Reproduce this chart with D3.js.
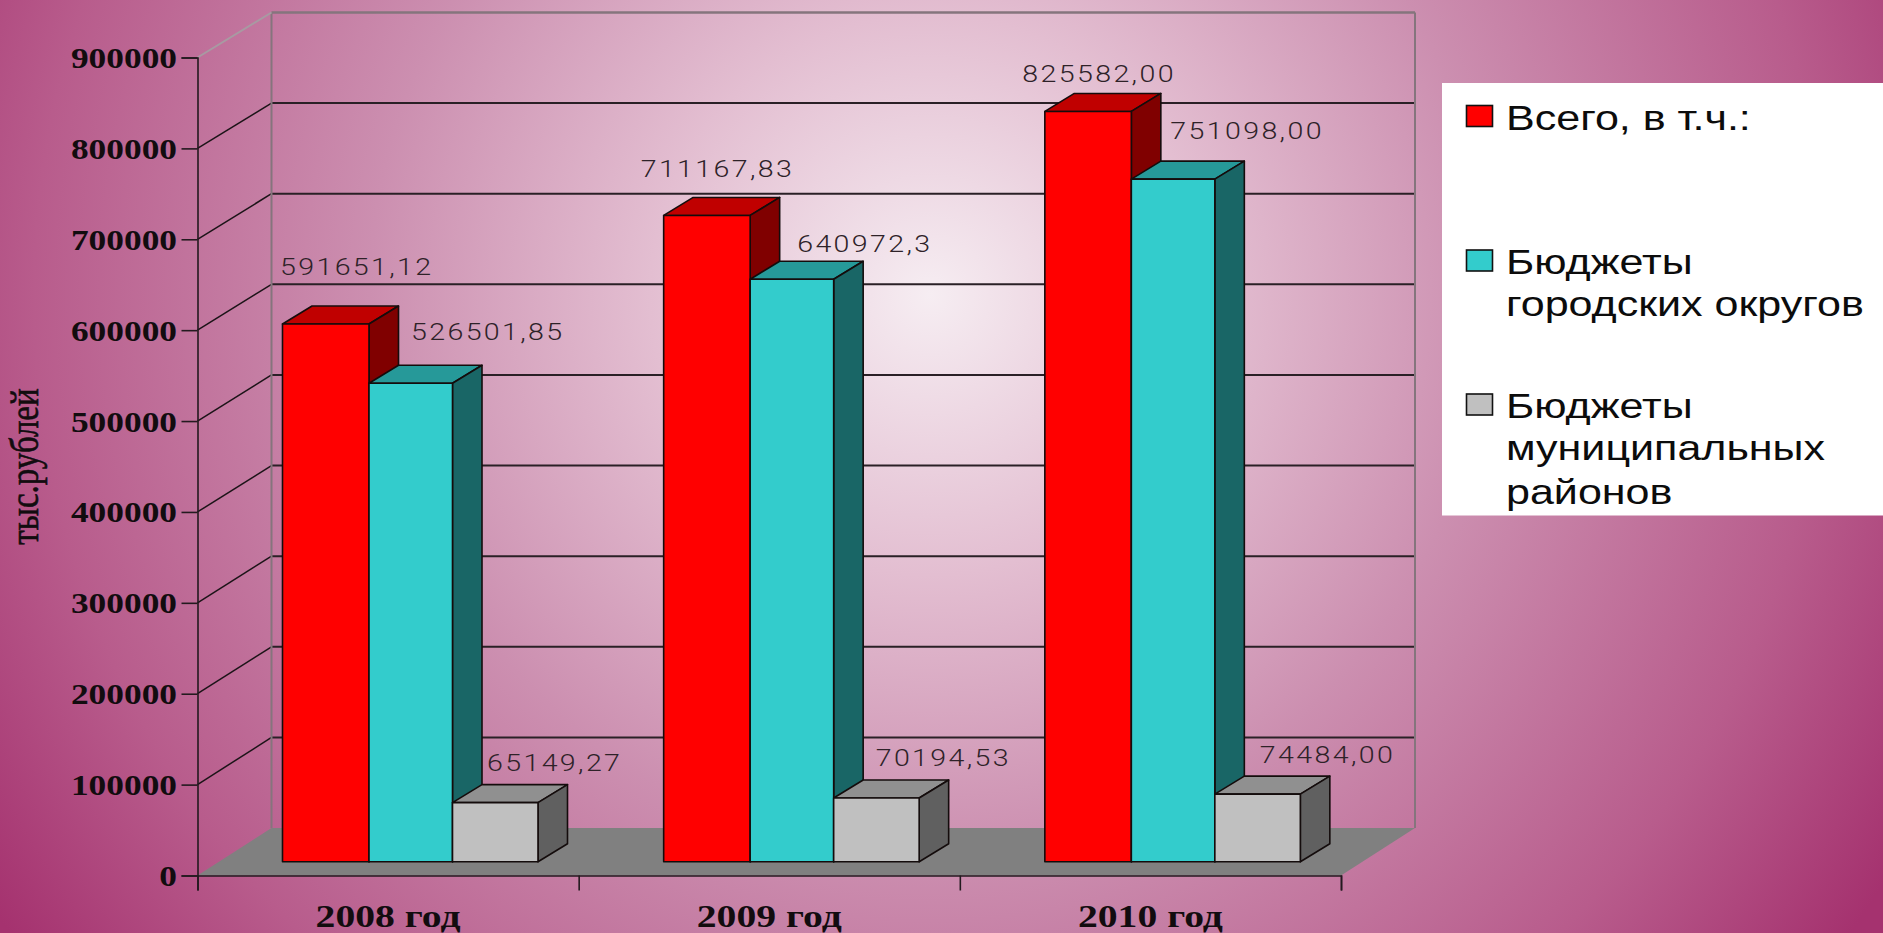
<!DOCTYPE html>
<html><head><meta charset="utf-8">
<script src="https://d3js.org/d3.v7.min.js"></script>
<style>html,body{margin:0;padding:0;overflow:hidden}svg{display:block}</style>
</head><body><svg id="c" width="1883" height="933"></svg>
<script>
const categories = ["2008 год","2009 год","2010 год"];
const seriesNames = ["Всего, в т.ч.:","Бюджеты городских округов","Бюджеты муниципальных районов"];
const total = [591651.12,711167.83,825582.00];
const city = [526501.85,640972.3,751098.00];
const district = [65149.27,70194.53,74484.00];
const totalLabels = ["591651,12","711167,83","825582,00"];
const cityLabels = ["526501,85","640972,3","751098,00"];
const districtLabels = ["65149,27","70194,53","74484,00"];
const yTicks = [0,100000,200000,300000,400000,500000,600000,700000,800000,900000];
const legendLines = [["Всего, в т.ч.:"],["Бюджеты","городских округов"],["Бюджеты","муниципальных","районов"]];
const frontColors = ["#ff0000","#33cccc","#c0c0c0"];
const topColors = ["#c00000","#269999","#909090"];
const sideColors = ["#800000","#196666","#606060"];
// manual label offsets from each bar's top-left corner, as in the source chart
const labelNudge = [
 [[-2.5,-49],[-23,-38],[-22.5,-29]],
 [[42,-43],[47,-27],[39,-40]],
 [[34.5,-32],[42,-32],[45,-31]]];

const seriesValues = [total,city,district];
const seriesLabels = [totalLabels,cityLabels,districtLabels];

const svg = d3.select("#c");
const defs = svg.append("defs");
const g = defs.append("radialGradient").attr("id","bg").attr("gradientUnits","userSpaceOnUse")
  .attr("cx",930).attr("cy",295).attr("r",1120);
[[0,"#f6edf2"],[0.25,"#e3bed1"],[0.5,"#cc8fb0"],[0.8,"#b85c8c"],[1,"#a5326f"]].forEach(s=>
  g.append("stop").attr("offset",s[0]).attr("stop-color",s[1]));
svg.append("rect").attr("width",1883).attr("height",933).attr("fill","url(#bg)");

const frontX0=197.5, frontX1=1341, depthX=74, depthTop=-45, depthBottom=-47.5;
const y = d3.scaleLinear().domain([0,900000]).range([875.5,57.5]);
const x = d3.scaleBand().domain(categories).range([frontX0,frontX1]);
const innerEdges = [85,171.5,255,340.5];
const barOffsetY=-13.7, bdx=29.5, bdy=-18;
const dyAt = v => depthBottom+(depthTop-depthBottom)*v/900000;

const line=(a,b,c,d,col,w)=>svg.append("line").attr("x1",a).attr("y1",b).attr("x2",c).attr("y2",d)
  .attr("stroke",col).attr("stroke-width",w);

// floor
svg.append("polygon").attr("fill","#808080").attr("points",[
 [frontX0,y(0)],[frontX1,y(0)],[frontX1+depthX,y(0)+depthBottom],[frontX0+depthX,y(0)+depthBottom]].join(" "));

// gridlines
yTicks.forEach(t=>{
  if(t===0||t===900000) return;
  line(frontX0,y(t),frontX0+depthX,y(t)+dyAt(t),"#1c1418",1.5);
  line(frontX0+depthX,y(t)+dyAt(t),frontX1+depthX,y(t)+dyAt(t),"#2a2026",2);
});
// walls
const wallC="#85757d";
const T=y(900000)+depthTop, B=y(0)+depthBottom;
line(frontX0+depthX,T,frontX0+depthX,B,wallC,2);
line(frontX1+depthX,T,frontX1+depthX,B,wallC,2);
line(frontX0+depthX,T,frontX1+depthX,T,wallC,2.5);
line(frontX0,y(900000),frontX0+depthX,T,"#a89aa2",2);

// axes
const axisC="#231a1f";
const yAxis=d3.axisLeft(y).tickValues(yTicks).tickSize(16).tickFormat("");
const ya=svg.append("g").attr("transform",`translate(${frontX0},0)`).call(yAxis);
const xTickScale=d3.scaleLinear().domain([0,3]).range([frontX0,frontX1]);
const xAxis=d3.axisBottom(xTickScale).tickValues([0,1,2,3]).tickSize(15).tickFormat("");
const xa=svg.append("g").attr("transform",`translate(0,${y(0)})`).call(xAxis);
[ya,xa].forEach(a=>{a.selectAll("line").attr("stroke",axisC).attr("stroke-width",1.6);
  a.select(".domain").attr("stroke",axisC).attr("stroke-width",1.6);});

// bars
categories.forEach((c,ci)=>{
  seriesValues.forEach((vals,si)=>{
    const x0=x(c)+innerEdges[si], w=innerEdges[si+1]-innerEdges[si], yt=y(vals[ci])+barOffsetY, yb=y(0)+barOffsetY;
    const gb=svg.append("g").attr("stroke","#140c0c").attr("stroke-width",1.6).attr("stroke-linejoin","round");
    gb.append("polygon").attr("fill",topColors[si]).attr("points",[[x0,yt],[x0+bdx,yt+bdy],[x0+w+bdx,yt+bdy],[x0+w,yt]].join(" "));
    gb.append("polygon").attr("fill",sideColors[si]).attr("points",[[x0+w,yt],[x0+w+bdx,yt+bdy],[x0+w+bdx,yb+bdy],[x0+w,yb]].join(" "));
    gb.append("rect").attr("fill",frontColors[si]).attr("x",x0).attr("y",yt).attr("width",w).attr("height",yb-yt);
  });
});

const txt=(px,py,s,sx,attrs)=>{
  const t=svg.append("text").attr("transform",`translate(${px},${py}) scale(${sx},1)`).text(s);
  Object.entries(attrs).forEach(([k,v])=>t.style(k,v));
  return t;
};
// data labels
categories.forEach((c,ci)=>{
  seriesValues.forEach((vals,si)=>{
    const n=labelNudge[si][ci];
    txt(x(c)+innerEdges[si]+n[0],y(vals[ci])+barOffsetY+n[1],seriesLabels[si][ci],1.19,
      {"font-family":"Roboto","font-weight":"300","font-size":"24px","letter-spacing":"2px","fill":"#2e2228"});
  });
});
// tick labels
yTicks.forEach(t=>{
  txt(177,y(t)+10.5,String(t),1.22,{"font-family":"'Liberation Serif'","font-weight":"bold","font-size":"29px","text-anchor":"end","fill":"#120c0f"});
});
categories.forEach(c=>{
  txt(x(c)+x.bandwidth()/2,926.5,c,1.24,{"font-family":"'Liberation Serif'","font-weight":"bold","font-size":"32px","text-anchor":"middle","fill":"#120c0f"});
});
// y title
svg.append("text").attr("transform","translate(38,466.5) rotate(-90) scale(1,1.2)").text("тыс.рублей")
  .style("font-family","'Liberation Serif'").style("font-size","33px").style("stroke","#120c0f").style("stroke-width","0.5px").style("text-anchor","middle").style("fill","#120c0f");

// legend
svg.append("rect").attr("x",1442).attr("y",83).attr("width",441).attr("height",432.5).attr("fill","#fff");
const rows=d3.scaleOrdinal().domain(d3.range(3)).range([105.5,250,394]);
const lineH=[0,41.5,85.5];
legendLines.forEach((ls,i)=>{
  svg.append("rect").attr("x",1466.5).attr("y",rows(i)).attr("width",26).attr("height",21)
    .attr("fill",frontColors[i]).attr("stroke","#111").attr("stroke-width",1.6);
  ls.forEach((l,j)=>txt(1506,rows(i)+24+lineH[j],l,1.23,{"font-family":"'Liberation Sans'","font-size":"35px","fill":"#0c0c0c"}));
});
</script></body></html>
